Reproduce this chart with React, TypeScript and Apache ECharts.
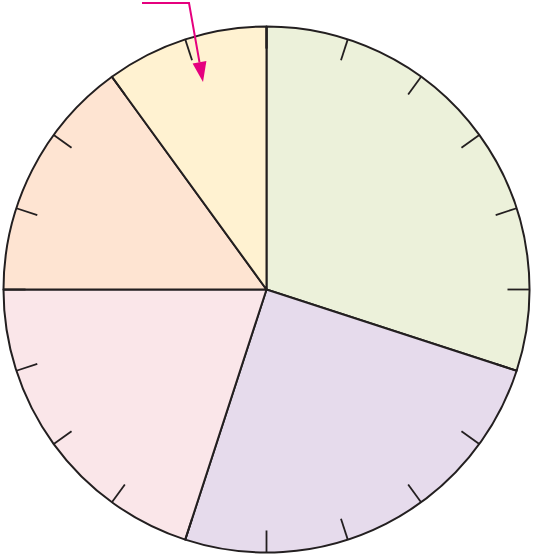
import React, { useEffect, useRef } from "react";
import * as echarts from "echarts";

const categories = ["A", "B", "C", "D", "E"];
const values = [30, 25, 20, 15, 10];
const colors = ["#ecf1da", "#e6dbec", "#fae6e9", "#fee4d2", "#fff2d1"];
const tickCount = 20;

export default function App() {
  const ref = useRef<HTMLDivElement>(null);
  useEffect(() => {
    if (!ref.current) return;
    const chart = echarts.init(ref.current, undefined, { renderer: "svg" });
    const cx = 266.5;
    const cy = 289.5;
    const r = 263;
    const tip = [203, 82];
    const from = [189, 3];
    const dx = tip[0] - from[0];
    const dy = tip[1] - from[1];
    const len = Math.sqrt(dx * dx + dy * dy);
    const ux = dx / len;
    const uy = dy / len;
    const hl = 20;
    const hw = 7;
    const bx = tip[0] - hl * ux;
    const by = tip[1] - hl * uy;
    chart.setOption({
      animation: false,
      series: [
        {
          type: "pie",
          z: 1,
          center: [cx, cy],
          radius: [0, r],
          startAngle: 90,
          clockwise: true,
          label: { show: false },
          labelLine: { show: false },
          emphasis: { disabled: true },
          itemStyle: { borderColor: "#231f20", borderWidth: 2 },
          data: categories.map((c, i) => ({
            name: c,
            value: values[i],
            itemStyle: { color: colors[i] },
          })),
        },
        {
          type: "gauge",
          z: 10,
          center: [cx, cy],
          radius: r,
          startAngle: 90,
          endAngle: -270,
          min: 0,
          max: 100,
          splitNumber: tickCount,
          pointer: { show: false },
          progress: { show: false },
          axisLine: { show: true, lineStyle: { width: 0.01, color: [[1, "rgba(0,0,0,0)"]] } },
          axisTick: { show: false },
          axisLabel: { show: false },
          anchor: { show: false },
          title: { show: false },
          detail: { show: false },
          splitLine: {
            show: true,
            length: 22,
            distance: 0,
            lineStyle: { color: "#231f20", width: 1.8 },
          },
          data: [{ value: 0 }],
        },
      ],
      graphic: [
        {
          type: "polyline",
          z: 100,
          shape: { points: [[142, 3], from, [bx, by]] },
          style: { stroke: "#e5007e", lineWidth: 2, fill: null },
        },
        {
          type: "polygon",
          z: 100,
          shape: {
            points: [
              tip,
              [bx + hw * uy, by - hw * ux],
              [bx - hw * uy, by + hw * ux],
            ],
          },
          style: { fill: "#e5007e" },
        },
      ],
    });
    return () => chart.dispose();
  }, []);
  return (
    <div
      ref={ref}
      style={{ position: "absolute", left: 0, top: 0, width: 533, height: 556 }}
    />
  );
}
